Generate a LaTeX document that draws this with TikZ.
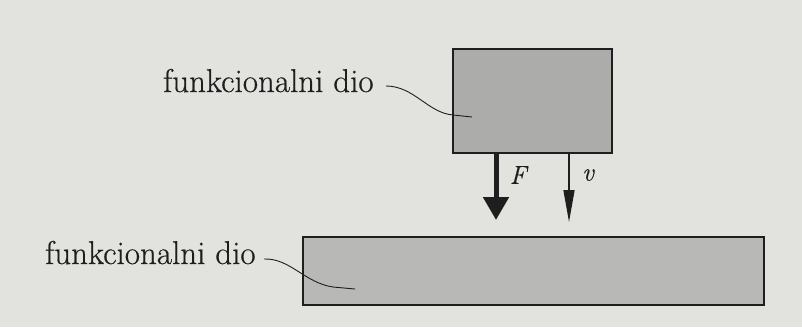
\documentclass[tikz,border=0pt]{standalone}
\usepackage{fontspec}
\newfontfamily\lblfont{Latin Modern Roman}[FakeBold=0.5]
\newfontfamily\symfont{Latin Modern Roman}[FakeBold=0.4]
\usetikzlibrary{arrows.meta}
\definecolor{bg}{RGB}{226,226,223}
\definecolor{boxfill}{RGB}{172,172,170}
\definecolor{boxfillb}{RGB}{184,184,182}
\definecolor{ink}{RGB}{30,30,30}
\tikzset{
  part/.style={draw=ink, line width=1.6pt, inner sep=0pt},
  lbl/.style={inner sep=0pt, anchor=base west, text=ink, font=\lblfont\fontsize{33}{37}\selectfont},
  leader/.style={draw=ink, line width=0.9pt},
  sym/.style={inner sep=0pt, text=ink, font=\symfont\fontsize{26}{30}\selectfont\itshape},
}
\begin{document}
\begin{tikzpicture}[x=1pt,y=-1pt]
\fill[bg] (0,0) rectangle (802,327);
\useasboundingbox (0,0) rectangle (802,327);
\node[part, fill=boxfill, minimum width=159pt, minimum height=104pt] (top) at (532.5,101) {};
\node[part, fill=boxfillb, minimum width=461pt, minimum height=68pt] (bot) at (533.5,271) {};
\node[lbl] (l1) at (163,92) {funkcionalni dio};
\node[lbl] (l2) at (45,264) {funkcionalni dio};
\coordinate (l1e) at (472,117);
\coordinate (l2e) at (355,289);
\draw[leader] (386,86) .. controls (414,86) and (428,113) .. (453,115) -- (l1e);
\draw[leader] (264,259) .. controls (290,258) and (305,283) .. (333,287) -- (l2e);
\coordinate (Fs) at (496,153);
\coordinate (Fe) at (496,220);
\coordinate (vs) at (569,153);
\coordinate (ve) at (569,222);
\draw[ink, line width=5pt, -{Triangle[width=25pt,length=23pt]}] (Fs) -- (Fe);
\draw[ink, line width=1.4pt, -{Triangle[width=11pt,length=32pt]}] (vs) -- (ve);
\node[sym] (F) at (518,175) {F};
\node[sym] (v) at (588,175) {v};
\end{tikzpicture}
\end{document}
